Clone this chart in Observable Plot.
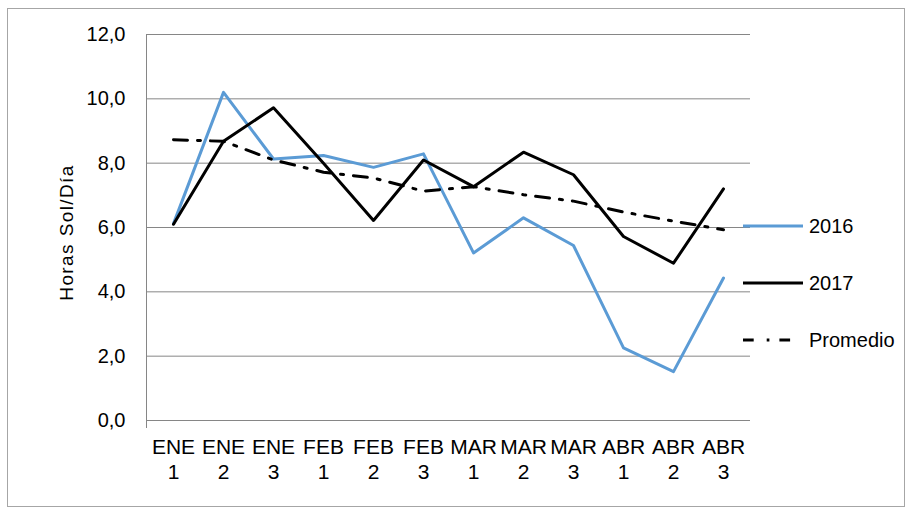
<!DOCTYPE html>
<html><head><meta charset="utf-8">
<script src="https://cdn.jsdelivr.net/npm/d3@7"></script>
<script src="https://cdn.jsdelivr.net/npm/@observablehq/plot@0.6"></script>
<style>body{margin:0;background:#fff;} #chart{width:910px;height:512px;}</style>
</head><body><div id="chart"></div>
<script>
const categories = ["ENE 1","ENE 2","ENE 3","FEB 1","FEB 2","FEB 3","MAR 1","MAR 2","MAR 3","ABR 1","ABR 2","ABR 3"];
const series2016 = [6.12, 10.2, 8.13, 8.24, 7.87, 8.29, 5.21, 6.30, 5.44, 2.26, 1.52, 4.43];
const series2017 = [6.1, 8.68, 9.72, 8.0, 6.22, 8.10, 7.27, 8.34, 7.64, 5.72, 4.89, 7.20];
const promedio   = [8.73, 8.68, 8.10, 7.72, 7.54, 7.13, 7.27, 7.02, 6.82, 6.48, 6.20, 5.93];
const yTicks = [0, 2, 4, 6, 8, 10, 12];
const legendLabels = ["2016", "2017", "Promedio"];
const yLabel = "Horas Sol/Día";

const rows = s => categories.map((c, i) => ({cat: c, v: s[i]}));
const W = 910, H = 512, ML = 146, MR = 160, MT = 34, MB = 92;
const font = "'Liberation Sans', Arial, sans-serif";
const dash = "14,10,3,10";

const plot = Plot.plot({
  width: W, height: H,
  marginLeft: ML, marginRight: MR, marginTop: MT, marginBottom: MB,
  style: {fontFamily: font, background: "#fff", color: "#000", overflow: "visible"},
  x: {type: "point", domain: categories, padding: 0.5},
  y: {domain: [0, 12]},
  marks: [
    Plot.gridY(yTicks, {stroke: "#868686", strokeOpacity: 1, strokeWidth: 1}),
    Plot.axisY(yTicks, {tickSize: 0, tickPadding: 21, fontSize: 20, fill: "#000",
      tickFormat: d => d.toFixed(1).replace(".", ","), label: null}),
    Plot.axisX({tickSize: 0, tickPadding: 16, fontSize: 21, fill: "#000", lineHeight: 1.19,
      tickFormat: d => d.replace(" ", "\n"), label: null}),
    Plot.text([yLabel], {frameAnchor: "left", textAnchor: "middle", dx: -80, dy: 5, rotate: -90,
      fontSize: 19, fill: "#000", text: d => d}),
    Plot.line(rows(series2016), {x: "cat", y: "v", stroke: "#5b9bd5", strokeWidth: 3}),
    Plot.line(rows(series2017), {x: "cat", y: "v", stroke: "#000", strokeWidth: 3}),
    Plot.line(rows(promedio), {x: "cat", y: "v", stroke: "#000", strokeWidth: 3, strokeDasharray: dash})
  ]
});

const svg = d3.select(plot);
svg.selectAll("text").filter(function() { return this.textContent === yLabel; })
  .style("letter-spacing", "1.4px");
// left axis line and small tick
svg.append("line").attr("x1", ML + 0.5).attr("x2", ML + 0.5).attr("y1", MT).attr("y2", H - MB + 8)
  .attr("stroke", "#868686").attr("stroke-width", 1);
// legend
const legY = [226, 283, 340];
const legStyles = [
  {stroke: "#5b9bd5", w: 3, dash: null, x2: 803},
  {stroke: "#000", w: 3, dash: null, x2: 803},
  {stroke: "#000", w: 3, dash: "10.7,13,2.7,10", x2: 791}
];
legendLabels.forEach((lab, i) => {
  const st = legStyles[i];
  const ln = svg.append("line").attr("x1", 743).attr("x2", st.x2)
    .attr("y1", legY[i]).attr("y2", legY[i])
    .attr("stroke", st.stroke).attr("stroke-width", st.w);
  if (st.dash) ln.attr("stroke-dasharray", st.dash);
  svg.append("text").attr("x", 809).attr("y", legY[i]).attr("dy", "0.36em")
    .attr("text-anchor", "start")
    .attr("font-size", 20).attr("font-family", font).attr("fill", "#000").text(lab);
});
// outer border
svg.append("rect").attr("x", 7.5).attr("y", 8.5).attr("width", 897).attr("height", 498)
  .attr("fill", "none").attr("stroke", "#a6a6a6").attr("stroke-width", 1);

document.getElementById("chart").appendChild(plot);
</script>
</body></html>
